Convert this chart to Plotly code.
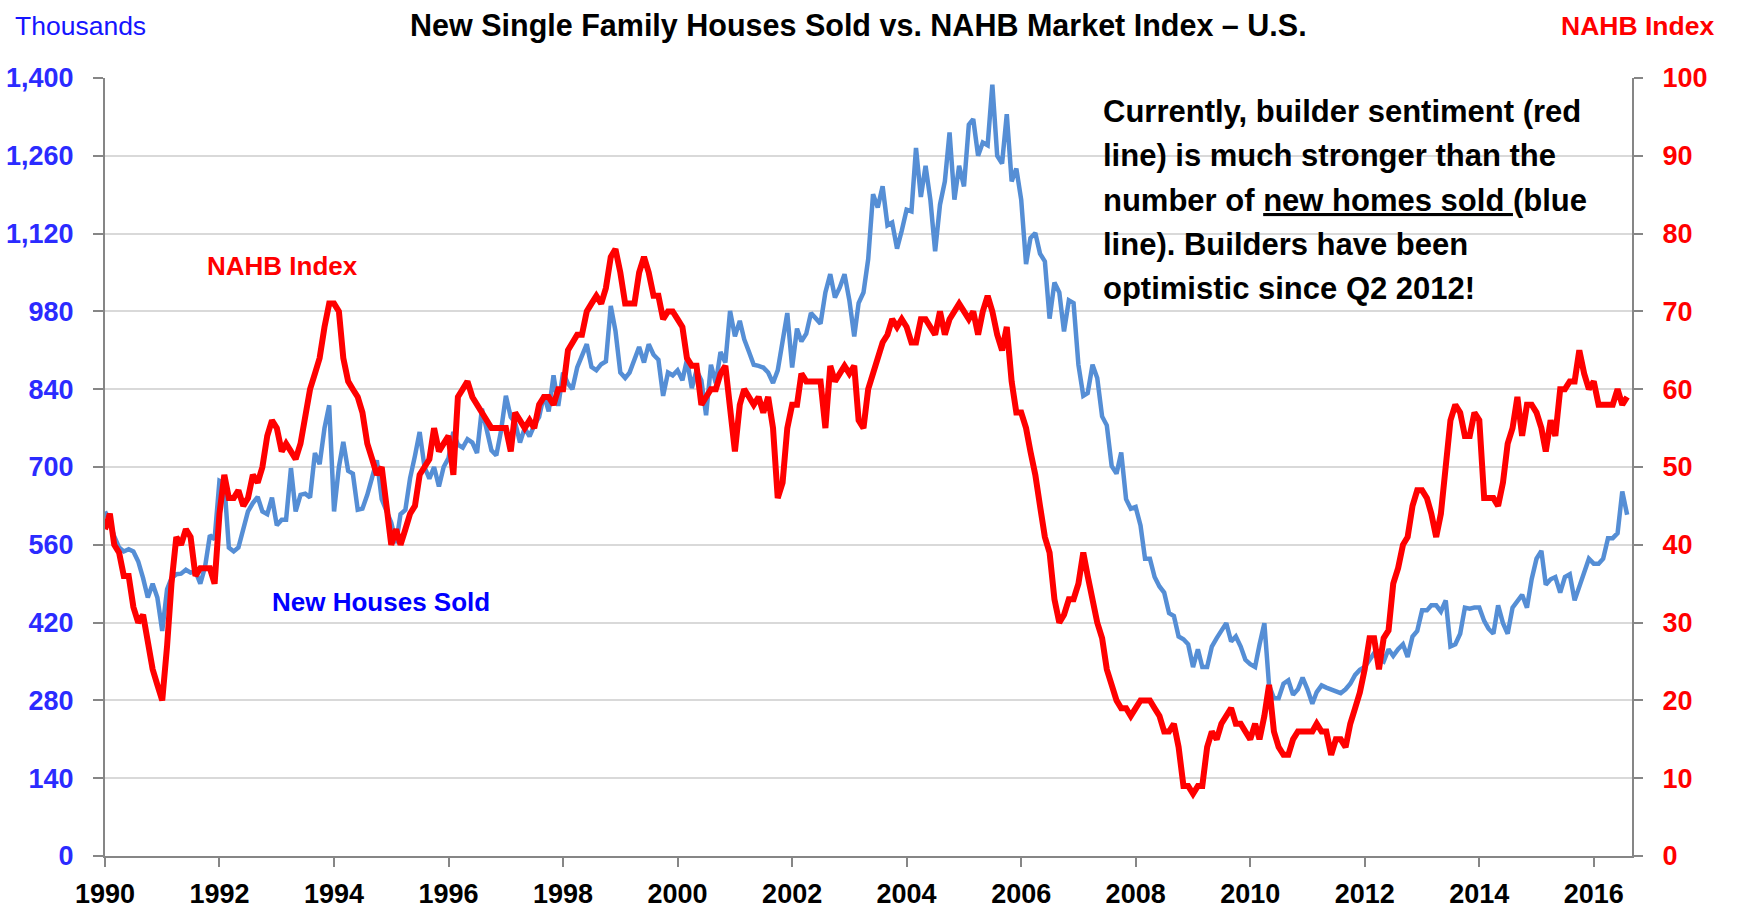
import pandas as pd
import plotly.graph_objects as go

# ---------------- data (monthly, Jan 1990 - Aug 2016) ----------------
start_month = "1990-01-01"

houses_sold = [
    # 1990
    620, 600, 575, 555, 548, 552, 548, 530, 500, 465, 490, 465,
    # 1991
    405, 480, 500, 507, 508, 515, 510, 512, 490, 520, 577, 570,
    # 1992
    675, 670, 555, 548, 555, 590, 620, 635, 646, 620, 615, 645,
    # 1993
    595, 605, 605, 698, 620, 650, 652, 645, 725, 705, 770, 811,
    # 1994
    620, 700, 745, 693, 688, 623, 625, 650, 680, 712, 642, 623,
    # 1995
    600, 563, 615, 623, 680, 720, 763, 700, 679, 700, 665, 700,
    # 1996
    716, 763, 740, 735, 750, 744, 725, 805, 770, 730, 721, 765,
    # 1997
    828, 790, 780, 744, 770, 755, 775, 790, 830, 800, 865, 810,
    # 1998
    870, 850, 840, 879, 900, 921, 880, 874, 885, 890, 990, 945,
    # 1999
    870, 860, 870, 895, 916, 888, 921, 902, 893, 828, 870, 865,
    # 2000
    874, 856, 893, 842, 874, 856, 793, 884, 851, 907, 888, 981,
    # 2001
    935, 963, 930, 907, 884, 882, 879, 870, 851, 874, 930, 977,
    # 2002
    879, 949, 926, 940, 977, 967, 958, 1014, 1047, 1005, 1023, 1047,
    # 2003
    1000, 935, 995, 1014, 1074, 1191, 1167, 1205, 1135, 1140, 1093, 1125,
    # 2004
    1163, 1160, 1274, 1186, 1242, 1180, 1088, 1172, 1214, 1302, 1181, 1242,
    # 2005
    1205, 1316, 1326, 1260, 1284, 1279, 1388, 1260, 1246, 1335, 1214, 1237,
    # 2006
    1181, 1065, 1112, 1121, 1084, 1070, 967, 1032, 1014, 944, 1000, 995,
    # 2007
    884, 828, 833, 884, 860, 791, 775, 702, 688, 726, 642, 625,
    # 2008
    628, 595, 535, 535, 502, 485, 474, 437, 432, 395, 390, 381,
    # 2009
    340, 372, 340, 340, 377, 392, 405, 419, 386, 395, 377, 353,
    # 2010
    345, 340, 380, 419, 307, 284, 284, 310, 316, 290, 300, 321,
    # 2011
    300, 274, 295, 307, 303, 300, 295, 293, 300, 310, 326, 335,
    # 2012
    340, 355, 365, 355, 350, 372, 360, 372, 381, 358, 395, 405,
    # 2013
    442, 442, 451, 451, 440, 460, 377, 381, 400, 447, 445, 447,
    # 2014
    447, 423, 409, 400, 451, 419, 400, 447, 460, 470, 447, 498,
    # 2015
    535, 549, 488, 498, 502, 474, 502, 507, 460, 484, 510, 535,
    # 2016
    526, 526, 535, 572, 572, 581, 656, 614,
]

nahb_index = [
    # 1990
    42, 44, 40, 39, 36, 36, 32, 30, 31, 27, 24, 22,
    # 1991
    20, 27, 35, 41, 40, 42, 41, 36, 37, 37, 37, 35,
    # 1992
    44, 49, 46, 46, 47, 45, 46, 49, 48, 50, 54, 56,
    # 1993
    55, 52, 53, 52, 51, 53, 57, 60, 62, 64, 68, 71,
    # 1994
    71, 70, 64, 61, 60, 59, 57, 53, 51, 49, 50, 45,
    # 1995
    40, 42, 40, 42, 44, 45, 49, 50, 51, 55, 52, 53,
    # 1996
    54, 49, 59, 60, 61, 59, 58, 57, 56, 55, 55, 55,
    # 1997
    55, 52, 57, 56, 55, 56, 55, 58, 59, 59, 58, 60,
    # 1998
    60, 65, 66, 67, 67, 70, 71, 72, 71, 73, 77, 78,
    # 1999
    75, 71, 71, 71, 75, 77, 75, 72, 72, 69, 70, 70,
    # 2000
    69, 68, 64, 63, 63, 58, 59, 60, 60, 62, 63, 57,
    # 2001
    52, 58, 60, 59, 58, 59, 57, 59, 55, 46, 48, 55,
    # 2002
    58, 58, 62, 61, 61, 61, 61, 55, 63, 61, 62, 63,
    # 2003
    62, 63, 56, 55, 60, 62, 64, 66, 67, 69, 68, 69,
    # 2004
    68, 66, 66, 69, 69, 68, 67, 70, 67, 69, 70, 71,
    # 2005
    70, 69, 70, 67, 70, 72, 70, 67, 65, 68, 61, 57,
    # 2006
    57, 55, 52, 49, 45, 41, 39, 33, 30, 31, 33, 33,
    # 2007
    35, 39, 36, 33, 30, 28, 24, 22, 20, 19, 19, 18,
    # 2008
    19, 20, 20, 20, 19, 18, 16, 16, 17, 14, 9, 9,
    # 2009
    8, 9, 9, 14, 16, 15, 17, 18, 19, 17, 17, 16,
    # 2010
    15, 17, 15, 18, 22, 16, 14, 13, 13, 15, 16, 16,
    # 2011
    16, 16, 17, 16, 16, 13, 15, 15, 14, 17, 19, 21,
    # 2012
    24, 28, 28, 24, 28, 29, 35, 37, 40, 41, 45, 47,
    # 2013
    47, 46, 44, 41, 44, 50, 56, 58, 57, 54, 54, 57,
    # 2014
    56, 46, 46, 46, 45, 48, 53, 55, 59, 54, 58, 58,
    # 2015
    57, 55, 52, 56, 54, 60, 60, 61, 61, 65, 62, 60,
    # 2016
    61, 58, 58, 58, 58, 60, 58, 59,
]

left_ticks = [0, 140, 280, 420, 560, 700, 840, 980, 1120, 1260, 1400]
right_ticks = [0, 10, 20, 30, 40, 50, 60, 70, 80, 90, 100]

text_lines = [
    "Currently, builder sentiment (red",
    "line) is much stronger than the",
    "number of <u>new homes sold </u>(blue",
    "line). Builders have been",
    "optimistic since Q2 2012!",
]

months = pd.date_range(start_month, periods=len(houses_sold), freq="MS")

# ---------------- figure ----------------
W, H = 1739, 913
L, R, T, B = 105, 107, 78, 57
pw, ph = W - L - R, H - T - B


def px(x):
    return (x - L) / pw


def py(y):
    return (H - B - y) / ph


NARROW = "Liberation Sans Narrow, Arial Narrow, Liberation Sans, Arial, sans-serif"
ARIAL = "Liberation Sans, Arial, sans-serif"
BLUE_TXT = "#2B2BFF"
RED = "#FF0000"
AXIS = "#868686"
TICK_SIZE = 27

fig = go.Figure()
fig.add_trace(go.Scatter(x=months, y=houses_sold, mode="lines",
                         line=dict(color="#558ED5", width=4.5),
                         name="New Houses Sold", yaxis="y"))
fig.add_trace(go.Scatter(x=months, y=nahb_index, mode="lines",
                         line=dict(color=RED, width=6),
                         name="NAHB Index", yaxis="y2"))

fig.update_layout(
    width=W, height=H,
    margin=dict(l=L, r=R, t=T, b=B, autoexpand=False),
    paper_bgcolor="white", plot_bgcolor="white",
    showlegend=False,
    xaxis=dict(
        type="date", range=["1990-01-01", "2016-09-01"],
        tick0="1990-01-01", dtick="M24", tickformat="%Y",
        ticks="outside", ticklen=9, tickwidth=2, tickcolor=AXIS,
        showline=True, linecolor=AXIS, linewidth=2,
        showgrid=False, zeroline=False, automargin=False,
        ticklabelstandoff=4,
        tickfont=dict(family=NARROW, size=TICK_SIZE, color="black", weight="bold"),
    ),
    yaxis=dict(
        range=[0, 1400], tickvals=left_ticks, tickformat=",d",
        ticks="outside", ticklen=10, tickwidth=2, tickcolor=AXIS,
        showline=True, linecolor=AXIS, linewidth=2,
        showgrid=True, gridcolor="#D9D9D9", gridwidth=2, zeroline=False,
        automargin=False, ticklabelstandoff=14,
        tickfont=dict(family=NARROW, size=TICK_SIZE, color=BLUE_TXT, weight="bold"),
    ),
    yaxis2=dict(
        range=[0, 100], tickvals=right_ticks, overlaying="y", side="right",
        ticks="outside", ticklen=9, tickwidth=2, tickcolor=AXIS,
        showline=True, linecolor=AXIS, linewidth=2,
        showgrid=False, zeroline=False, automargin=False,
        ticklabelstandoff=14,
        tickfont=dict(family=NARROW, size=TICK_SIZE, color=RED, weight="bold"),
    ),
)

ann = []
ann.append(dict(text="New Single Family Houses Sold vs. NAHB Market Index \u2013 U.S.",
                x=px(858), y=py(25), xanchor="center", yanchor="middle",
                font=dict(family=NARROW, size=30.5, color="black", weight="bold")))
ann.append(dict(text="Thousands", x=px(13), y=py(26), xanchor="left", yanchor="middle",
                font=dict(family=NARROW, size=26.5, color="#1515FF")))
ann.append(dict(text="NAHB Index", x=px(1716), y=py(26), xanchor="right", yanchor="middle",
                font=dict(family=NARROW, size=26.5, color=RED, weight="bold")))
ann.append(dict(text="NAHB Index", x=px(205), y=py(266), xanchor="left", yanchor="middle",
                font=dict(family=ARIAL, size=26, color=RED, weight="bold")))
ann.append(dict(text="New Houses Sold", x=px(270), y=py(602), xanchor="left", yanchor="middle",
                font=dict(family=ARIAL, size=26, color="#0000FF", weight="bold")))
line_y = [111, 155, 200, 244, 288]
for t, yy in zip(text_lines, line_y):
    ann.append(dict(text=t, x=px(1101), y=py(yy), xanchor="left", yanchor="middle",
                    font=dict(family=ARIAL, size=31, color="black", weight="bold")))
for a in ann:
    a.update(xref="paper", yref="paper", showarrow=False)
fig.update_layout(annotations=ann)

# remove the browser's default 8px page margin so the figure fills the window exactly
fig.write_html(
    "out.html",
    config={"displayModeBar": False},
    post_script="document.body.style.margin='0';document.body.style.overflow='hidden';",
)
